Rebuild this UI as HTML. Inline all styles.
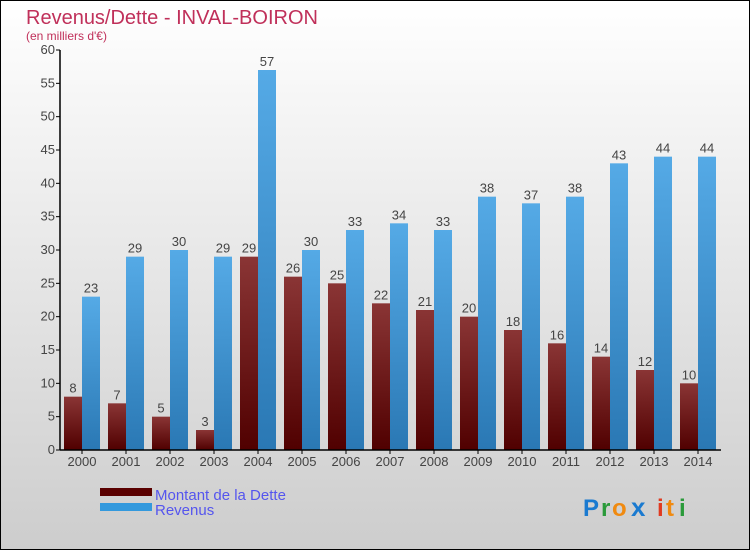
<!DOCTYPE html>
<html><head><meta charset="utf-8"><style>
body{margin:0}
#c{position:relative;width:750px;height:550px;font-family:"Liberation Sans",sans-serif}
</style></head><body>
<div id="c">
<svg width="750" height="550" font-family="Liberation Sans,sans-serif">
<defs>
<linearGradient id="bg" x1="0" y1="0" x2="0" y2="1"><stop offset="0" stop-color="#ffffff"/><stop offset="1" stop-color="#cdcdcd"/></linearGradient>
<linearGradient id="gd" x1="0" y1="0" x2="0" y2="1"><stop offset="0" stop-color="#8a3535"/><stop offset="1" stop-color="#500000"/></linearGradient>
<linearGradient id="gr" x1="0" y1="0" x2="0" y2="1"><stop offset="0" stop-color="#55aae6"/><stop offset="1" stop-color="#2a78b4"/></linearGradient>
</defs>
<rect x="0.5" y="0.5" width="749" height="549" fill="url(#bg)" stroke="#000"/>
<text x="26" y="24" font-size="20" fill="#c0305a">Revenus/Dette - INVAL-BOIRON</text>
<text x="26" y="40" font-size="12" fill="#c0305a">(en milliers d'€)</text>
<g id="plot"></g>
<rect x="100" y="488" width="52" height="8" fill="#5a0000"/>
<rect x="100" y="503" width="52" height="8" fill="#3399dd"/>
<text x="155" y="500" font-size="15" fill="#5555ee">Montant de la Dette</text>
<text x="155" y="515" font-size="15" fill="#5555ee">Revenus</text>
<g font-size="24" font-weight="bold">
<text x="583" y="516" fill="#1a7ad0">P</text><text x="601" y="516" fill="#2a9a3a">r</text><text x="612" y="516" fill="#f08a10">o</text><text x="631" y="516" fill="#1a7ad0" font-size="26">x</text><text x="657" y="516" fill="#e03a20">i</text><text x="666" y="516" fill="#f08a10">t</text><text x="679" y="516" fill="#2a9a3a">i</text>
</g>
</svg>
</div>
<script>
const years=["2000","2001","2002","2003","2004","2005","2006","2007","2008","2009","2010","2011","2012","2013","2014"];
const dette=[8,7,5,3,29,26,25,22,21,20,18,16,14,12,10];
const revenus=[23,29,30,29,57,30,33,34,33,38,37,38,43,44,44];
const yTicks=[0,5,10,15,20,25,30,35,40,45,50,55,60];
const NS="http://www.w3.org/2000/svg";
const g=document.getElementById('plot');
const x0=60,band=44,y0=450,yMax=60,h=400;
const y=v=>y0-v/yMax*h;
function el(t,a){const e=document.createElementNS(NS,t);for(const k in a)e.setAttribute(k,a[k]);g.appendChild(e);return e;}
yTicks.forEach(t=>{
 const l=el('line',{x1:x0-4,x2:x0,y1:y(t),y2:y(t),stroke:'#000'});
 
 
 const tx=el('text',{x:x0-5,y:y(t)+4,'text-anchor':'end','font-size':13,fill:'#444'});
 tx.textContent=t;
 
 
});
years.forEach((yr,i)=>{
 const c=x0+band*(i+0.5);
 const b1=el('rect',{x:c-18,y:y(dette[i]),width:18,height:y0-y(dette[i]),fill:'url(#gd)'});
 
 
 const b2=el('rect',{x:c,y:y(revenus[i]),width:18,height:y0-y(revenus[i]),fill:'url(#gr)'});
 
 
 const t1=el('text',{x:c-9,y:y(dette[i])-4,'text-anchor':'middle','font-size':13,fill:'#444'});
 t1.textContent=dette[i];
 
 
 const t2=el('text',{x:c+9,y:y(revenus[i])-4,'text-anchor':'middle','font-size':13,fill:'#444'});
 t2.textContent=revenus[i];
 
 
 const tk=el('line',{x1:c,x2:c,y1:y0,y2:y0+4,stroke:'#000'});
 
 
 const xl=el('text',{x:c,y:y0+16,'text-anchor':'middle','font-size':13,fill:'#444'});
 xl.textContent=yr;
 
 
});
const ya=el('line',{x1:x0,x2:x0,y1:y(60),y2:y0,stroke:'#000','stroke-width':1.5});


const xa=el('line',{x1:x0,x2:x0+band*years.length+1,y1:y0,y2:y0,stroke:'#000','stroke-width':1.5});


</script>
</body></html>
